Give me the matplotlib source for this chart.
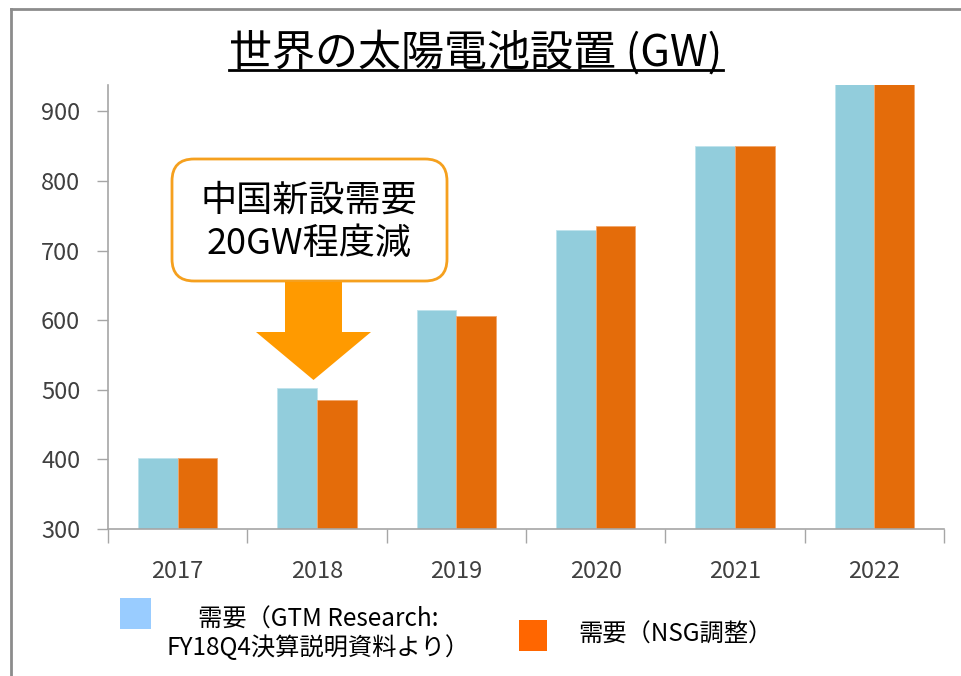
#!/usr/bin/env python3
"""
World solar cell installation (GW): GTM Research demand vs NSG-adjusted demand
"""

import numpy as np
import matplotlib
matplotlib.use('Agg')
import matplotlib.pyplot as plt
import matplotlib.patches as mpatches
from matplotlib.lines import Line2D

plt.rcParams['font.family'] = ['Noto Sans CJK JP', 'DejaVu Sans']

# data
years = ['2017', '2018', '2019', '2020', '2021', '2022']
demand_gtm = [402, 503, 615, 730, 851, 940]
demand_nsg = [402, 486, 606, 735, 851, 940]
y_ticks = [300, 400, 500, 600, 700, 800, 900]

title = '世界の太陽電池設置 (GW)'
note_text = '中国新設需要\n20GW程度減'
label_gtm = '需要（GTM Research:\nFY18Q4決算説明資料より）'
label_nsg = '需要（NSG調整）'

bar_blue = '#92CDDC'
bar_orange = '#E46C0A'
legend_blue = '#99CCFF'
legend_orange = '#FF6600'
axis_grey = '#A6A6A6'
text_grey = '#404040'

W, H = 961, 676
fig = plt.figure(figsize=(W / 100, H / 100), dpi=100)
ax = fig.add_axes([108 / W, 1 - 529 / H, (944 - 108) / W, (529 - 85) / H])

x = np.arange(len(years))
bw = 0.284
ax.bar(x - bw / 2, demand_gtm, bw, color=bar_blue, edgecolor='#BFE3EC', linewidth=0.6)
ax.bar(x + bw / 2, demand_nsg, bw, color=bar_orange, edgecolor='#F2A66B', linewidth=0.6)

ax.set_xlim(-0.5, len(years) - 0.5)
ax.set_ylim(300, 938)
ax.set_yticks(y_ticks)
ax.tick_params(axis='y', direction='out', length=8, width=1, color=axis_grey,
               labelsize=17, labelcolor=text_grey, pad=12)

ax.set_xticks(x)
ax.set_xticklabels(years)
ax.set_xticks(np.arange(len(years) + 1) - 0.5, minor=True)
ax.tick_params(axis='x', which='major', length=0, labelsize=17,
               labelcolor=text_grey, pad=22)
ax.tick_params(axis='x', which='minor', direction='out', length=10, width=1,
               color=axis_grey)

for side in ('top', 'right'):
    ax.spines[side].set_visible(False)
for side in ('left', 'bottom'):
    ax.spines[side].set_color(axis_grey)
    ax.spines[side].set_linewidth(1.2)

# outer frame (left and top edges visible)
fig.add_artist(Line2D([11 / W, 11 / W], [0, 1 - 9 / H], transform=fig.transFigure,
                      color='#8C8C8C', linewidth=2))
fig.add_artist(Line2D([11 / W, 1], [1 - 9 / H, 1 - 9 / H], transform=fig.transFigure,
                      color='#8C8C8C', linewidth=2))

# underlined title
t = fig.text(476 / W, 1 - 66 / H, title, ha='center', va='baseline',
             fontsize=31, color='black')
fig.canvas.draw()
bb = t.get_window_extent(fig.canvas.get_renderer())
fig.add_artist(Line2D([bb.x0 / W, bb.x1 / W], [1 - 70 / H, 1 - 70 / H],
                      transform=fig.transFigure, color='black', linewidth=2))

# callout box and arrow (inch coordinates)
tr = fig.dpi_scale_trans
box = mpatches.FancyBboxPatch((1.72, 3.95), 2.75, 1.22,
                              boxstyle='round,pad=0,rounding_size=0.22',
                              facecolor='white', edgecolor='#F5A01E',
                              linewidth=2, transform=tr)
fig.add_artist(box)
fig.text(3.09, 4.535, note_text, transform=tr, ha='center', va='center',
         fontsize=26, color='black', linespacing=1.28)

arrow = mpatches.FancyArrow(3.135, 3.94, 0, -0.98, width=0.57, head_width=1.15,
                            head_length=0.48, length_includes_head=True,
                            facecolor='#FF9A00', edgecolor='none', transform=tr)
fig.add_artist(arrow)

# legend drawn by hand
fig.add_artist(mpatches.Rectangle((1.20, (H - 629) / 100), 0.31, 0.31,
                                  facecolor=legend_blue, edgecolor='none', transform=tr))
fig.text(3.18, (H - 634) / 100, label_gtm, transform=tr, ha='center', va='center',
         multialignment='center', fontsize=17.5, color='black', linespacing=1.15)
fig.add_artist(mpatches.Rectangle((5.19, (H - 651) / 100), 0.28, 0.31,
                                  facecolor=legend_orange, edgecolor='none', transform=tr))
fig.text(5.78, (H - 635) / 100, label_nsg, transform=tr, ha='left', va='center',
         fontsize=17.5, color='black')

fig.savefig('out.png', dpi=100)
